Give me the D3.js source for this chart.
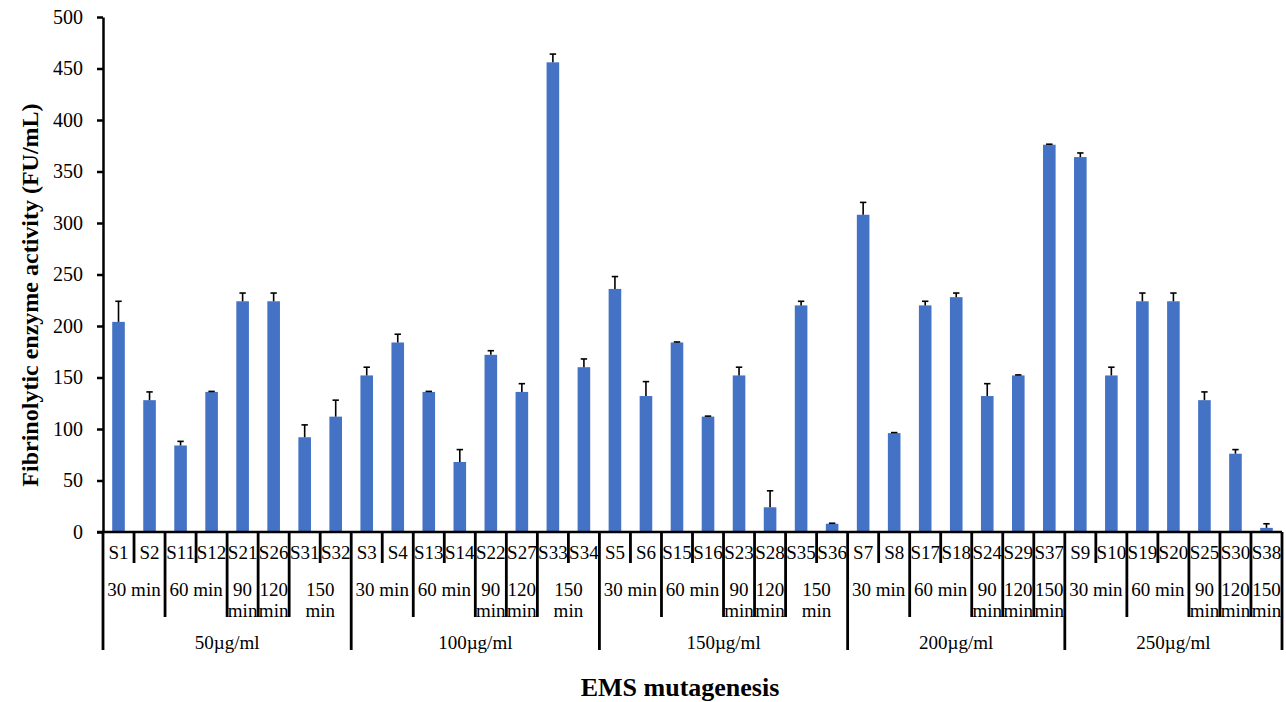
<!DOCTYPE html>
<html>
<head>
<meta charset="utf-8">
<title>EMS mutagenesis</title>
<style>
body{margin:0;background:#fff;}
text{font-family:"Liberation Serif","Times New Roman",serif;fill:#000;}
</style>
</head>
<body>
<svg id="chart" width="1286" height="702"></svg>
<script src="https://cdn.jsdelivr.net/npm/d3@7"></script>
<script>
// sample names, in plotting order
var samples = ["S1","S2","S11","S12","S21","S26","S31","S32",
               "S3","S4","S13","S14","S22","S27","S33","S34",
               "S5","S6","S15","S16","S23","S28","S35","S36",
               "S7","S8","S17","S18","S24","S29","S37",
               "S9","S10","S19","S20","S25","S30","S38"];
var activity = [204,128,84,136,224,224,92,112,
                152,184,136,68,172,136,456,160,
                236,132,184,112,152,24,220,8,
                308,96,220,228,132,152,376,
                364,152,224,224,128,76,4];
var errUp = [20,8,4,0.5,8,8,12,16,
             8,8,0.5,12,4,8,8,8,
             12,14,0.5,0.5,8,16,4,0.5,
             12,0.5,4,4,12,0.5,0.5,
             4,8,8,8,8,4,4];
var concLabels = ["50\u00b5g/ml","100\u00b5g/ml","150\u00b5g/ml","200\u00b5g/ml","250\u00b5g/ml"];
var timeLabels = ["30 min","60 min","90 min","120 min","150 min"];
// how many samples fall under each time, per concentration
var timeCounts = [[2,2,1,1,2],[2,2,1,1,2],[2,2,1,1,2],[2,2,1,1,1],[2,2,1,1,1]];
var yTicks = [0,50,100,150,200,250,300,350,400,450,500];

var svg = d3.select("#chart");
var pLeft = 103, pRight = 1282, pTop = 17, pBottom = 532;

var x = d3.scaleBand().domain(samples).range([pLeft, pRight]).paddingInner(0.6).paddingOuter(0.3);
var y = d3.scaleLinear().domain([0, 500]).range([pBottom, pTop]);
// band edges without padding, for the separator lines
var bw = (pRight - pLeft) / samples.length;
function edge(i){ return pLeft + bw * i; }
var barW = 12.6;

// bars
svg.selectAll("rect.bar").data(samples).enter().append("rect")
  .attr("class","bar")
  .attr("x", function(d){ return x(d) + x.bandwidth()/2 - barW/2; })
  .attr("width", barW)
  .attr("y", function(d,i){ return y(activity[i]); })
  .attr("height", function(d,i){ return y(0) - y(activity[i]); })
  .attr("fill", "#4472c4");

// error bars (upper only)
var eb = svg.append("g").attr("stroke","#000").attr("stroke-width",1.6);
samples.forEach(function(d,i){
  var cx = x(d) + x.bandwidth()/2;
  var y1 = y(activity[i]), y2 = y(activity[i] + errUp[i]);
  eb.append("line").attr("x1",cx).attr("x2",cx).attr("y1",y1).attr("y2",y2);
  eb.append("line").attr("x1",cx-3.2).attr("x2",cx+3.2).attr("y1",y2).attr("y2",y2);
});

// y axis
var yAxis = svg.append("g")
  .attr("transform","translate(" + pLeft + ",0)")
  .call(d3.axisLeft(y).tickValues(yTicks).tickSize(6).tickSizeOuter(0).tickPadding(14));
yAxis.select(".domain").attr("stroke","#000").attr("stroke-width",2.5);
yAxis.selectAll(".tick line").attr("stroke","#000").attr("stroke-width",2.5);
yAxis.selectAll(".tick text").style("font-size","20px").style("font-family","Liberation Serif");

// x axis line
svg.append("line").attr("x1",pLeft-6).attr("x2",pRight).attr("y1",pBottom).attr("y2",pBottom)
  .attr("stroke","#000").attr("stroke-width",2.5);

var sep = svg.append("g").attr("stroke","#000").attr("stroke-width",2.8);
var lab = svg.append("g").style("font-size","19px");

// sample labels
samples.forEach(function(d,i){
  lab.append("text").attr("x", edge(i)+bw/2).attr("y", 559)
    .attr("text-anchor","middle").text(d);
});

// separators and group labels
var idx = 0;
concLabels.forEach(function(c, ci){
  var start = idx;
  sep.append("line").attr("x1",edge(start)).attr("x2",edge(start)).attr("y1",pBottom).attr("y2",650);
  timeCounts[ci].forEach(function(n, ti){
    var s = idx;
    if (ti > 0) sep.append("line").attr("x1",edge(s)).attr("x2",edge(s)).attr("y1",pBottom).attr("y2",617);
    for (var k = 1; k < n; k++)
      sep.append("line").attr("x1",edge(s+k)).attr("x2",edge(s+k)).attr("y1",pBottom).attr("y2",563);
    var cx = edge(s) + n*bw/2;
    var t = lab.append("text").attr("x",cx).attr("y",596).attr("text-anchor","middle").text(timeLabels[ti]);
    // wrap the label when it does not fit its span
    if (t.node().getComputedTextLength() > n*bw - 6) {
      var parts = timeLabels[ti].split(" ");
      t.text(null);
      t.append("tspan").attr("x",cx).attr("y",596).text(parts[0]);
      t.append("tspan").attr("x",cx).attr("y",617).text(parts[1]);
    }
    idx += n;
  });
  lab.append("text").attr("x",(edge(start)+edge(idx))/2).attr("y",649)
    .attr("text-anchor","middle").text(c);
});
sep.append("line").attr("x1",edge(idx)).attr("x2",edge(idx)).attr("y1",pBottom).attr("y2",650);

// axis titles
svg.append("text").attr("x",680).attr("y",696).attr("text-anchor","middle")
  .style("font-size","26px").style("font-weight","bold").text("EMS mutagenesis");
svg.append("text").attr("transform","translate(38,295) rotate(-90)").attr("text-anchor","middle")
  .style("font-size","24px").style("font-weight","bold").text("Fibrinolytic enzyme activity (FU/mL)");
</script>
</body>
</html>
